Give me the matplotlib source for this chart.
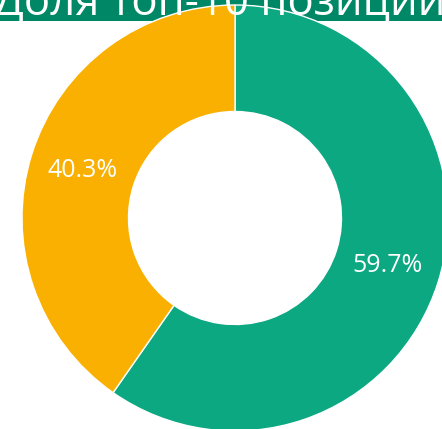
import matplotlib
matplotlib.use("Agg")
import matplotlib.pyplot as plt
from matplotlib.patches import Rectangle

title = "Доля топ-10 позиций"
categories = ["ТОП-10", "Остальные"]
values = [59.7, 40.3]
colors = ["#0BA882", "#F9B000"]

W, H = 442, 429
fig = plt.figure(figsize=(W / 100, H / 100), dpi=100)
fig.patch.set_facecolor("white")

# title band
fig.patches.append(Rectangle((0, (H - 21) / H), 1, 21 / H, transform=fig.transFigure,
                             facecolor="#008766", edgecolor="none", zorder=0))

R = 213
cx, cy = 235, H - 218
ax = fig.add_axes([(cx - R) / W, (cy - R) / H, 2 * R / W, 2 * R / H])
ax.set_zorder(1)
wedges, texts, autotexts = ax.pie(values, colors=colors, startangle=90, counterclock=False,
                                  autopct="%.1f%%", pctdistance=0.75,
                                  wedgeprops=dict(width=0.5, edgecolor="white", linewidth=1),
                                  textprops=dict(color="white", fontsize=18, family="Open Sans"))
ax.set_xlim(-1, 1)
ax.set_ylim(-1, 1)
ax.set_aspect("equal")
ax.axis("off")

t = fig.text(220 / W, (H - 15) / H, title, ha="center", va="baseline", color="white",
             fontsize=31.5, family="Open Sans", zorder=5)

fig.savefig("out.png", dpi=100)
